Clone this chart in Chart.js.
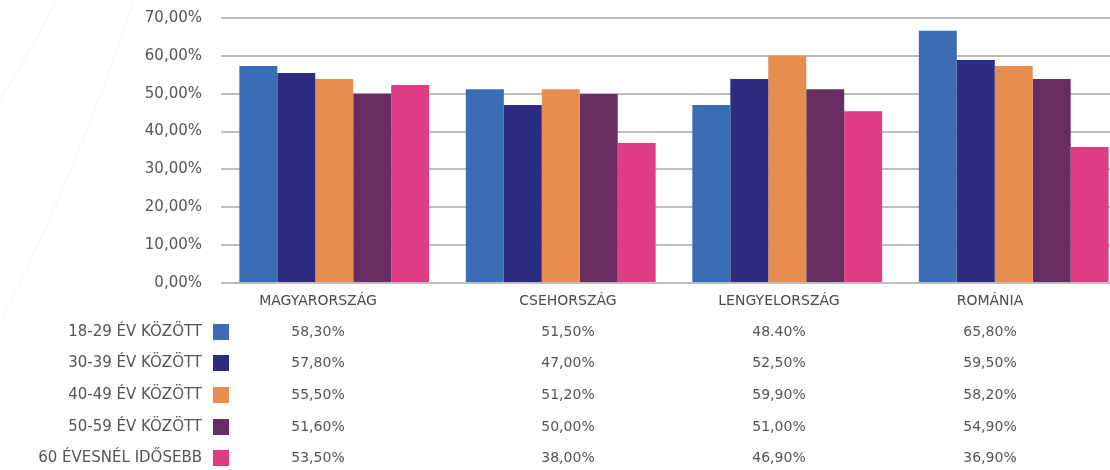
<!DOCTYPE html>
<html lang="hu">
<head>
<meta charset="utf-8">
<script src="https://cdn.jsdelivr.net/npm/chart.js@4.4.1/dist/chart.umd.min.js"></script>
<style>
  html, body { margin: 0; padding: 0; background: #fff; overflow: hidden; }
  #wrap { width: 1130px; height: 470px; }
</style>
</head>
<body>
<div id="wrap"><canvas id="chart" width="1130" height="470"></canvas></div>
<script>
const countries = ["MAGYARORSZÁG", "CSEHORSZÁG", "LENGYELORSZÁG", "ROMÁNIA"];
const ageGroups = ["18-29 ÉV KÖZÖTT", "30-39 ÉV KÖZÖTT", "40-49 ÉV KÖZÖTT", "50-59 ÉV KÖZÖTT", "60 ÉVESNÉL IDŐSEBB"];
const colors = ["#3b6db4", "#2d2c80", "#e78d4f", "#682c60", "#de3d86"];

// bar heights, as drawn in the chart
const age1829 = [57.3, 51.2, 47.0, 66.6];
const age3039 = [55.5, 47.0, 53.9, 58.9];
const age4049 = [53.9, 51.2, 60.0, 57.3];
const age5059 = [50.0, 49.9, 51.2, 53.9];
const age60 = [52.3, 37.0, 45.4, 35.9];

// values printed in the table under the chart
const table1829 = ["58,30%", "51,50%", "48.40%", "65,80%"];
const table3039 = ["57,80%", "47,00%", "52,50%", "59,50%"];
const table4049 = ["55,50%", "51,20%", "59,90%", "58,20%"];
const table5059 = ["51,60%", "50,00%", "51,00%", "54,90%"];
const table60 = ["53,50%", "38,00%", "46,90%", "36,90%"];

const series = [age1829, age3039, age4049, age5059, age60];
const tableRows = [table1829, table3039, table4049, table5059, table60];

const FONT = "'DejaVu Sans', sans-serif";
const colX = [318, 568, 779, 990];
const rowY = [332, 363, 395, 427, 458];

// faint decorative arcs in the background on the left
const backdrop = {
  id: "backdrop",
  beforeDraw(c) {
    const ctx = c.ctx;
    ctx.save();
    ctx.strokeStyle = "#f3f3f3";
    ctx.lineWidth = 1;
    ctx.beginPath();
    ctx.moveTo(57, 0);
    ctx.quadraticCurveTo(28, 55, 0, 100);
    ctx.stroke();
    ctx.beginPath();
    ctx.moveTo(134, 0);
    ctx.quadraticCurveTo(70, 190, 0, 322);
    ctx.stroke();
    ctx.restore();
  }
};

const dataTable = {
  id: "dataTable",
  afterDraw(c) {
    const ctx = c.ctx;
    ctx.save();
    ctx.textBaseline = "middle";

    ctx.font = "14px " + FONT;
    ctx.fillStyle = "#4a4a4a";
    ctx.textAlign = "center";
    countries.forEach((name, i) => ctx.fillText(name, colX[i], 301));

    ageGroups.forEach((g, r) => {
      ctx.font = "15px " + FONT;
      ctx.fillStyle = "#555555";
      ctx.textAlign = "right";
      ctx.fillText(g, 202, rowY[r]);
      ctx.fillStyle = colors[r];
      ctx.fillRect(213, rowY[r] - 8, 16, 16);

      ctx.font = "14px " + FONT;
      ctx.fillStyle = "#555555";
      ctx.textAlign = "center";
      tableRows[r].forEach((t, i) => ctx.fillText(t, colX[i], rowY[r]));
    });
    ctx.restore();
  }
};

new Chart(document.getElementById("chart"), {
  type: "bar",
  data: {
    labels: countries,
    datasets: series.map((vals, i) => ({
      label: ageGroups[i],
      data: vals,
      backgroundColor: colors[i],
      borderWidth: 0,
      barPercentage: 1,
      categoryPercentage: 0.838,
    })),
  },
  options: {
    responsive: false,
    animation: false,
    devicePixelRatio: 1,
    layout: { padding: { top: 18, bottom: 187, right: 3, left: 0 } },
    plugins: { legend: { display: false }, tooltip: { enabled: false } },
    scales: {
      x: { display: false },
      y: {
        min: 0,
        max: 70,
        afterFit: (s) => { s.width = 221; s.paddingTop = 0; s.paddingBottom = 0; },
        border: { display: false },
        grid: { color: "#bdbdbd", lineWidth: 2, drawTicks: false },
        ticks: {
          stepSize: 10,
          padding: 19,
          color: "#555555",
          font: { family: FONT, size: 15 },
          callback: (v) => v.toFixed(2).replace(".", ",") + "%",
        },
      },
    },
  },
  plugins: [backdrop, dataTable],
});
</script>
</body>
</html>
